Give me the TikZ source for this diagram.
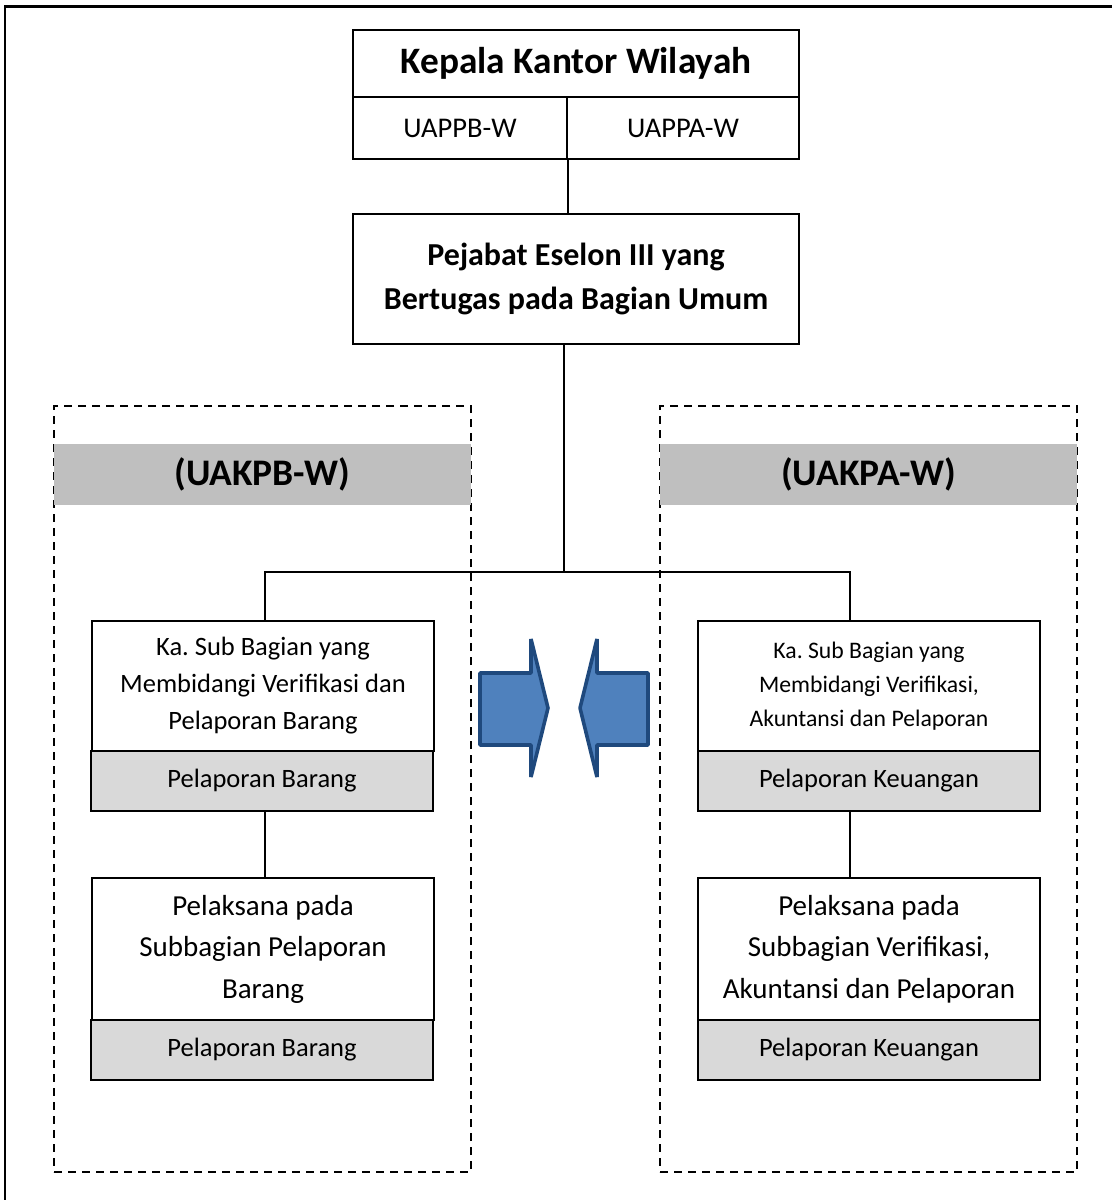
\documentclass[tikz,border=0pt]{standalone}
\usepackage{fontspec}
\setmainfont{Carlito}
\frenchspacing
\definecolor{bandgray}{RGB}{191,191,191}
\definecolor{taggray}{RGB}{217,217,217}
\definecolor{arrowfill}{RGB}{79,129,189}
\definecolor{arrowedge}{RGB}{31,73,125}
\begin{document}
\begin{tikzpicture}[x=1pt,y=-1pt,
  box/.style={draw, line width=1.8pt, inner sep=0pt, align=center, fill=white},
  wire/.style={line width=1.8pt},
  group/.style={draw, dashed, dash pattern=on 8pt off 6pt, line width=1.8pt, inner sep=0pt,
                minimum width=417pt, minimum height=766pt},
  band/.style={fill=bandgray, inner sep=0pt, minimum width=417pt, minimum height=61pt,
               font=\fontsize{37.5}{40}\selectfont\bfseries},
  tag/.style={box, fill=taggray, minimum width=342pt, minimum height=60pt,
              font=\fontsize{26.5}{30}\selectfont},
  headtxt/.style={font=\fontsize{37.3}{42}\selectfont\bfseries},
  celltxt/.style={font=\fontsize{28.5}{34}\selectfont},
  chieftxt/.style={font=\fontsize{32}{44}\selectfont\bfseries},
  kaLtxt/.style={font=\fontsize{26.5}{37}\selectfont},
  kaRtxt/.style={font=\fontsize{23.7}{34}\selectfont},
  peltxt/.style={font=\fontsize{29}{41.5}\selectfont},
  shiftarrow/.style={fill=arrowfill, draw=arrowedge, line width=3.6pt, line join=bevel}
]
\useasboundingbox (0,0) rectangle (1112,1200);

% outer frame (only top and left edges fall inside the page)
\draw[line width=2.4pt] (5,1200) -- (5,6.5) -- (1112,6.5);

% top block
\node[box, headtxt, minimum width=446pt, minimum height=67pt] (kepala) at (576,63.5) {Kepala Kantor Wilayah};
\node[box, celltxt, minimum width=214pt, minimum height=62pt] (uappb) at (460,128) {UAPPB-W};
\node[box, celltxt, minimum width=232pt, minimum height=62pt] (uappa) at (683,128) {UAPPA-W};

\node[box, chieftxt, minimum width=446pt, minimum height=130pt] (pejabat) at (576,279)
  {Pejabat Eselon III yang\\Bertugas pada Bagian Umum};

% dashed unit groups
\node[group] (grpB) at (262.5,789) {};
\node[group] (grpA) at (868.5,789) {};
\node[band] (bandB) at (262.5,474.5) {(UAKPB-W)};
\node[band] (bandA) at (868.5,474.5) {(UAKPA-W)};

% left column
\node[box, kaLtxt, minimum width=342pt, minimum height=130pt] (kaB) at (263,686)
  {Ka. Sub Bagian yang\\Membidangi Verifikasi dan\\Pelaporan Barang};
\node[tag] (tagB1) at (262,781) {Pelaporan Barang};
\node[box, peltxt, minimum width=342pt, minimum height=142pt] (pelB) at (263,949)
  {Pelaksana pada\\Subbagian Pelaporan\\Barang};
\node[tag] (tagB2) at (262,1050) {Pelaporan Barang};

% right column
\node[box, kaRtxt, minimum width=342pt, minimum height=130pt] (kaA) at (869,686)
  {Ka. Sub Bagian yang\\Membidangi Verifikasi,\\Akuntansi dan Pelaporan};
\node[tag] (tagA1) at (869,781) {Pelaporan Keuangan};
\node[box, peltxt, minimum width=342pt, minimum height=142pt] (pelA) at (869,949)
  {Pelaksana pada\\Subbagian Verifikasi,\\Akuntansi dan Pelaporan};
\node[tag] (tagA2) at (869,1050) {Pelaporan Keuangan};

% connectors
\coordinate (hub) at (564,572);
\coordinate (lbus) at (265,572);
\coordinate (rbus) at (850,572);
\draw[wire] (uappb.south east) -- (uappb.south east |- pejabat.north);
\draw[wire] (pejabat.south -| hub) -- (hub);
\draw[wire] (lbus |- kaB.north) -- (lbus) -- (rbus) -- (rbus |- kaA.north);
\draw[wire] (lbus |- tagB1.south) -- (lbus |- pelB.north);
\draw[wire] (rbus |- tagA1.south) -- (rbus |- pelA.north);

% facing block arrows
\draw[shiftarrow] (480,673) -- (531,673) -- (531,639) -- (548,708) -- (531,777) -- (531,745) -- (480,745) -- cycle;
\draw[shiftarrow] (648,673) -- (597,673) -- (597,639) -- (580,708) -- (597,777) -- (597,745) -- (648,745) -- cycle;
\end{tikzpicture}
\end{document}
